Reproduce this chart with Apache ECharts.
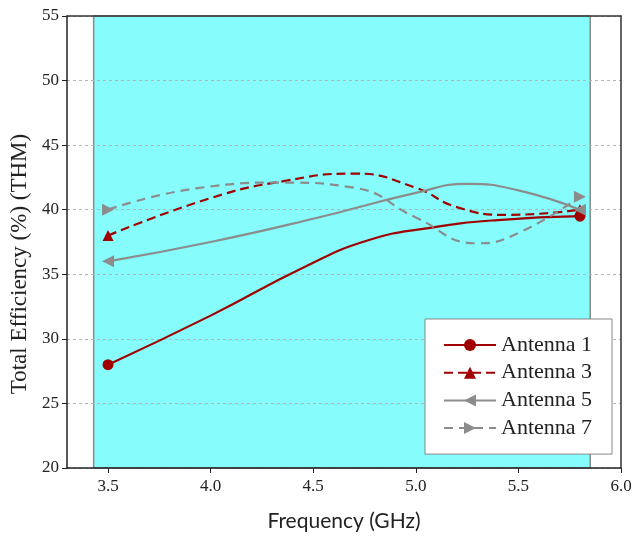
<!DOCTYPE html>
<html><head><meta charset="utf-8">
<script src="https://cdn.jsdelivr.net/npm/echarts@6/dist/echarts.min.js"></script>
<style>html,body{margin:0;padding:0;background:#fff}#c{width:634px;height:536px}</style>
</head><body><div id="c"></div>
<script>
var xTicks = [3.5, 4.0, 4.5, 5.0, 5.5, 6.0];
var bandRange = [3.43, 5.85];
var antenna1 = [[3.5,28],[4.0,31.8],[4.45,35.5],[4.76,37.6],[5.07,38.6],[5.4,39.2],[5.8,39.5]];
var antenna3 = [[3.5,38],[4.0,40.9],[4.35,42.2],[4.7,42.8],[5.0,41.7],[5.2,40.2],[5.45,39.6],[5.8,40]];
var antenna5 = [[3.5,36],[4.0,37.5],[4.5,39.3],[5.0,41.3],[5.25,42],[5.5,41.5],[5.8,40]];
var antenna7 = [[3.5,40],[3.95,41.7],[4.35,42.1],[4.7,41.7],[5.0,39.4],[5.3,37.4],[5.5,38.2],[5.8,41]];

var serif = '"Liberation Serif","DejaVu Serif",serif';
function pts(arr){
  return arr.map(function(p,i){
    var o = {value:p};
    if(i!==0 && i!==arr.length-1) o.symbol='none';
    return o;
  });
}
var red = '#A00000', grey = '#8C8C8C';
var chart = echarts.init(document.getElementById('c'));
chart.setOption({
  animation:false,
  grid:{left:67, top:16, right:13, bottom:68, outerBoundsMode:'none', containLabel:false},
  xAxis:[{
    type:'value', min:3.3, max:6.0, z:3,
    name:'Frequency (GHz)', nameLocation:'middle', nameGap:43,
    nameTextStyle:{fontFamily:'Lato,"Open Sans",sans-serif', fontSize:21, color:'#222'},
    axisLine:{show:true, onZero:false, lineStyle:{color:'#222', width:1.5}},
    axisTick:{show:true, inside:false, length:5, customValues:xTicks, lineStyle:{color:'#222'}},
    axisLabel:{customValues:xTicks, fontFamily:serif, fontSize:17, color:'#222', margin:10,
      formatter:function(v){return v.toFixed(1);}},
    splitLine:{show:false}
  },{
    type:'value', min:3.3, max:6.0, position:'top', z:3,
    axisLine:{show:true, onZero:false, lineStyle:{color:'#333', width:1.5}},
    axisTick:{show:false}, axisLabel:{show:false}, splitLine:{show:false}
  }],
  yAxis:[{
    type:'value', min:20, max:55, interval:5, z:3,
    name:'Total Efficiency (%) (THM)', nameLocation:'middle', nameGap:36,
    nameTextStyle:{fontFamily:serif, fontSize:23, color:'#222', padding:[0,44,0,0]},
    axisLine:{show:true, onZero:false, lineStyle:{color:'#222', width:1.5}},
    axisTick:{show:true, length:5, lineStyle:{color:'#222'}},
    axisLabel:{fontFamily:serif, fontSize:17, color:'#222', margin:8},
    splitLine:{show:true, lineStyle:{color:'#B5B5B5', type:[3,3], width:1}}
  },{
    type:'value', min:20, max:55, position:'right', z:3,
    axisLine:{show:true, onZero:false, lineStyle:{color:'#333', width:1.5}},
    axisTick:{show:false}, axisLabel:{show:false}, splitLine:{show:false}
  }],
  legend:{
    orient:'vertical', left:425, top:319, z:6,
    padding:[15,20,15,18], itemGap:5.7, itemWidth:52, itemHeight:15,
    backgroundColor:'#fff', borderColor:'#888', borderWidth:1, borderRadius:0,
    textStyle:{fontFamily:serif, fontSize:22, color:'#222', lineHeight:22},
    data:['Antenna 1','Antenna 3','Antenna 5','Antenna 7']
  },
  series:[
    {type:'line', name:'band', data:[], z:1, silent:true,
     markArea:{silent:true, itemStyle:{color:'#86FCFC', borderColor:'#8A8A8A', borderWidth:1.5},
       data:[[{xAxis:bandRange[0], yAxis:20},{xAxis:bandRange[1], yAxis:55}]]}},
    {type:'line', name:'Antenna 1', data:pts(antenna1), smooth:0.5, z:5,
     symbol:'circle', symbolSize:11, itemStyle:{color:red},
     lineStyle:{color:red, width:2.2}},
    {type:'line', name:'Antenna 3', data:pts(antenna3), smooth:0.5, z:5,
     symbol:'triangle', symbolSize:11, itemStyle:{color:red},
     lineStyle:{color:red, width:2.2, type:[9,5]}},
    {type:'line', name:'Antenna 5', data:pts(antenna5), smooth:0.5, z:5,
     symbol:'triangle', symbolRotate:90, symbolSize:12, itemStyle:{color:grey},
     lineStyle:{color:grey, width:2.2}},
    {type:'line', name:'Antenna 7', data:pts(antenna7), smooth:0.5, z:5,
     symbol:'triangle', symbolRotate:-90, symbolSize:12, itemStyle:{color:grey},
     lineStyle:{color:grey, width:2.2, type:[9,6]}}
  ]
});
</script></body></html>
